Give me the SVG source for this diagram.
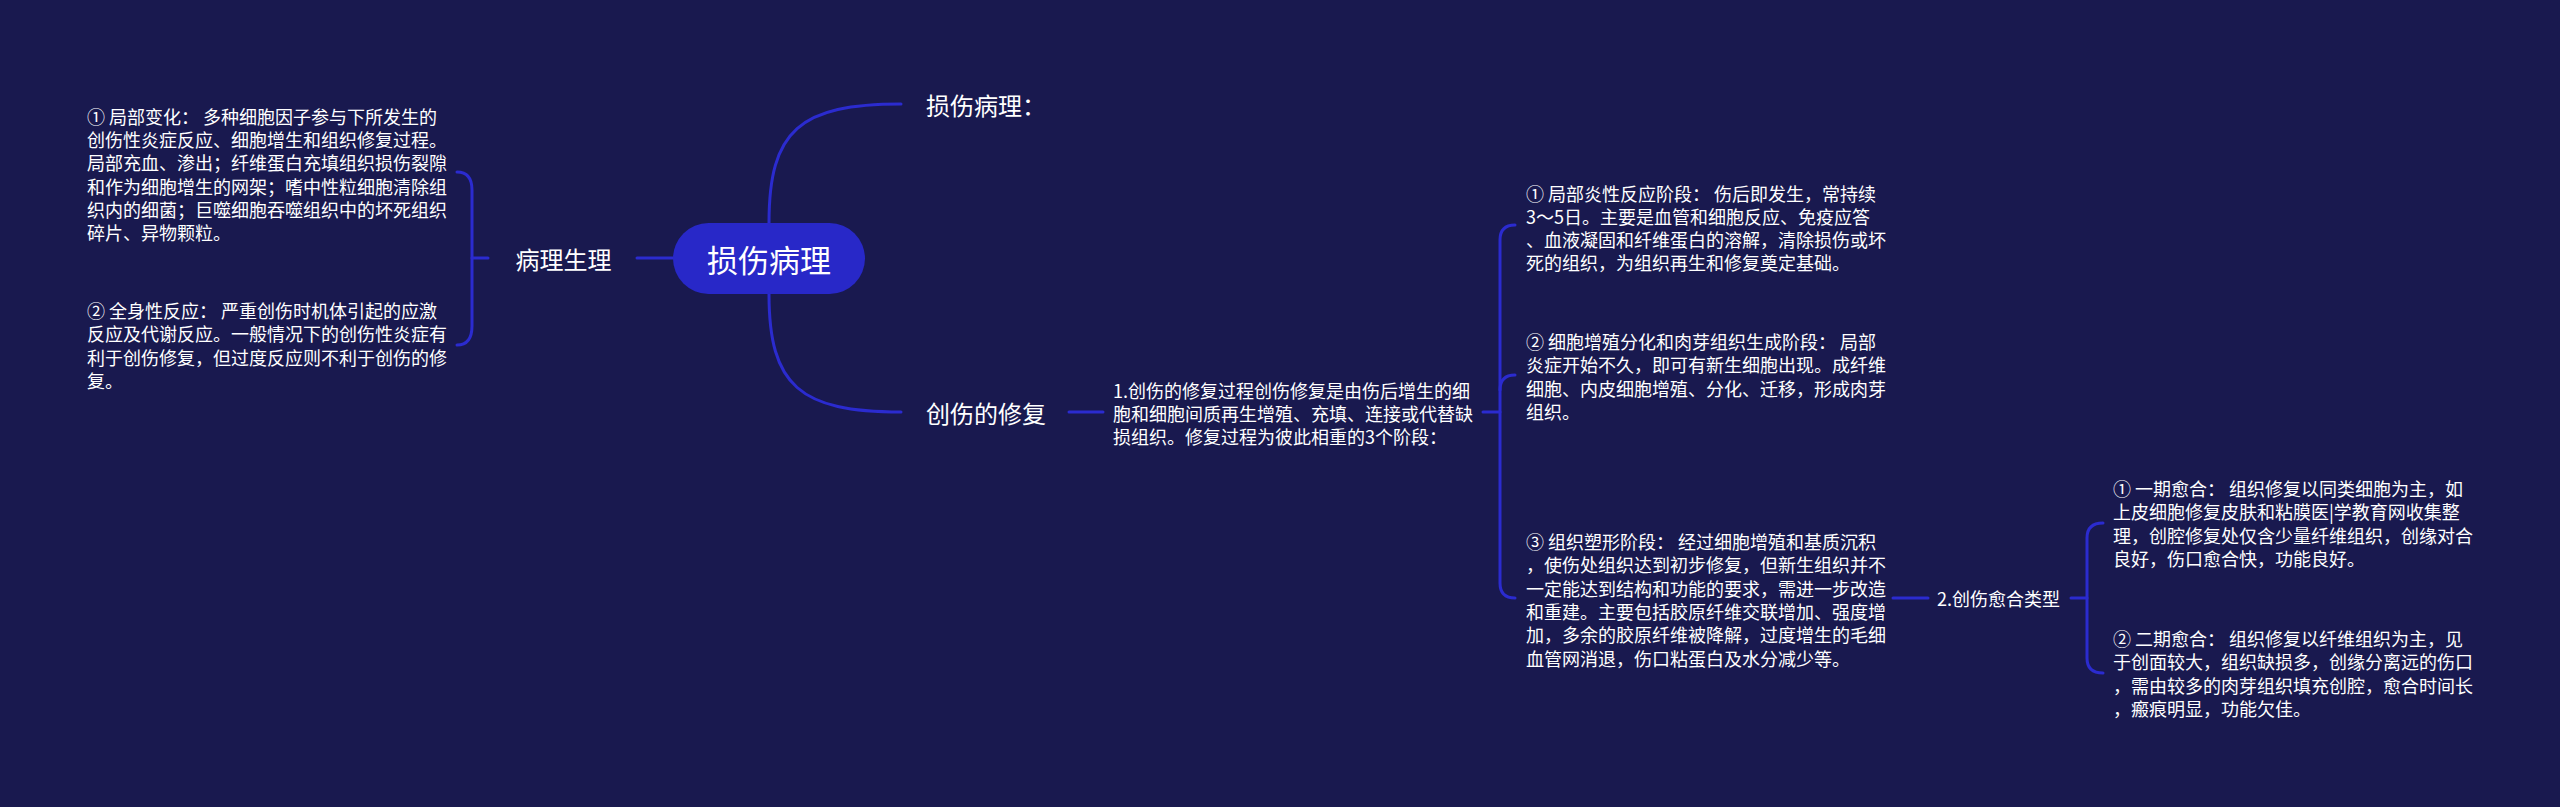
<svg xmlns="http://www.w3.org/2000/svg" width="2560" height="807" viewBox="0 0 2560 807">
<style>
.bg{fill:#19194f}
.ln{fill:none;stroke:#2b2bcf;stroke-width:3;stroke-linecap:round}
.t{font-family:"Noto Sans CJK SC","Microsoft YaHei",sans-serif;fill:#ffffff;dominant-baseline:central}
.s{font-size:18px}
.m{font-size:24px}
.r{font-size:31px}
</style>
<rect class="bg" x="0" y="0" width="2560" height="807"/>
<g id="connectors">
<path class="ln" d="M637,258 H673"/>
<path class="ln" d="M472,258 H488"/>
<path class="ln" d="M457,172 Q472,172 472,190 V326 Q472,345 457,345"/>
<path class="ln" d="M769,223 C769,130 800,104 901,104"/>
<path class="ln" d="M769,294 C769,386 800,412 901,412"/>
<path class="ln" d="M1069,412 H1103"/>
<path class="ln" d="M1483,412 H1500"/>
<path class="ln" d="M1515,225 Q1500,225 1500,240 V583 Q1500,598 1515,598"/>
<path class="ln" d="M1500,390 Q1500,375 1515,375"/>
<path class="ln" d="M1893,598 H1928"/>
<path class="ln" d="M2071,598 H2087"/>
<path class="ln" d="M2103,523 Q2087,523 2087,538 V658 Q2087,673 2103,673"/>
</g>
<g id="root">
<rect x="673" y="223" width="192" height="71" rx="35.5" fill="#2828c8"/>
<text class="t r" x="769" y="258" text-anchor="middle">损伤病理</text>
</g>
<g id="n-bingli-shengli">
<text class="t m" x="563.5" y="258" text-anchor="middle">病理生理</text>
</g>
<g id="n-sunshang-bingli">
<text class="t m" x="926" y="104">损伤病理：</text>
</g>
<g id="n-chuangshang-xiufu">
<text class="t m" x="926" y="412">创伤的修复</text>
</g>
<g id="n-jubu-bianhua">
<text class="t s" xml:space="preserve"><tspan x="87" y="115.8">① 局部变化： 多种细胞因子参与下所发生的</tspan><tspan x="87" y="139.1">创伤性炎症反应、细胞增生和组织修复过程。</tspan><tspan x="87" y="162.4">局部充血、渗出；纤维蛋白充填组织损伤裂隙</tspan><tspan x="87" y="185.7">和作为细胞增生的网架；嗜中性粒细胞清除组</tspan><tspan x="87" y="209">织内的细菌；巨噬细胞吞噬组织中的坏死组织</tspan><tspan x="87" y="232.3">碎片、异物颗粒。</tspan></text>
</g>
<g id="n-quanshen-fanying">
<text class="t s" xml:space="preserve"><tspan x="87" y="310">② 全身性反应： 严重创伤时机体引起的应激</tspan><tspan x="87" y="333.3">反应及代谢反应。一般情况下的创伤性炎症有</tspan><tspan x="87" y="356.6">利于创伤修复，但过度反应则不利于创伤的修</tspan><tspan x="87" y="379.9">复。</tspan></text>
</g>
<g id="n-xiufu-guocheng">
<text class="t s"><tspan x="1113" y="389.7">1.创伤的修复过程创伤修复是由伤后增生的细</tspan><tspan x="1113" y="413">胞和细胞间质再生增殖、充填、连接或代替缺</tspan><tspan x="1113" y="436.3">损组织。修复过程为彼此相重的3个阶段：</tspan></text>
</g>
<g id="n-stage1">
<text class="t s" xml:space="preserve"><tspan x="1526" y="192.5">① 局部炎性反应阶段： 伤后即发生，常持续</tspan><tspan x="1526" y="215.8">3～5日。主要是血管和细胞反应、免疫应答</tspan><tspan x="1526" y="239.1">、血液凝固和纤维蛋白的溶解，清除损伤或坏</tspan><tspan x="1526" y="262.4">死的组织，为组织再生和修复奠定基础。</tspan></text>
</g>
<g id="n-stage2">
<text class="t s" xml:space="preserve"><tspan x="1526" y="341">② 细胞增殖分化和肉芽组织生成阶段： 局部</tspan><tspan x="1526" y="364.3">炎症开始不久，即可有新生细胞出现。成纤维</tspan><tspan x="1526" y="387.6">细胞、内皮细胞增殖、分化、迁移，形成肉芽</tspan><tspan x="1526" y="410.9">组织。</tspan></text>
</g>
<g id="n-stage3">
<text class="t s" xml:space="preserve"><tspan x="1526" y="541">③ 组织塑形阶段： 经过细胞增殖和基质沉积</tspan><tspan x="1526" y="564.3">，使伤处组织达到初步修复，但新生组织并不</tspan><tspan x="1526" y="587.6">一定能达到结构和功能的要求，需进一步改造</tspan><tspan x="1526" y="610.9">和重建。主要包括胶原纤维交联增加、强度增</tspan><tspan x="1526" y="634.2">加，多余的胶原纤维被降解，过度增生的毛细</tspan><tspan x="1526" y="657.5">血管网消退，伤口粘蛋白及水分减少等。</tspan></text>
</g>
<g id="n-yuhe-leixing">
<text class="t s" x="1937" y="598">2.创伤愈合类型</text>
</g>
<g id="n-yiqi">
<text class="t s" xml:space="preserve"><tspan x="2113" y="488">① 一期愈合： 组织修复以同类细胞为主，如</tspan><tspan x="2113" y="511.3">上皮细胞修复皮肤和粘膜医|学教育网收集整</tspan><tspan x="2113" y="534.6">理，创腔修复处仅含少量纤维组织，创缘对合</tspan><tspan x="2113" y="557.9">良好，伤口愈合快，功能良好。</tspan></text>
</g>
<g id="n-erqi">
<text class="t s" xml:space="preserve"><tspan x="2113" y="638">② 二期愈合： 组织修复以纤维组织为主，见</tspan><tspan x="2113" y="661.3">于创面较大，组织缺损多，创缘分离远的伤口</tspan><tspan x="2113" y="684.6">，需由较多的肉芽组织填充创腔，愈合时间长</tspan><tspan x="2113" y="707.9">，瘢痕明显，功能欠佳。</tspan></text>
</g>
</svg>
